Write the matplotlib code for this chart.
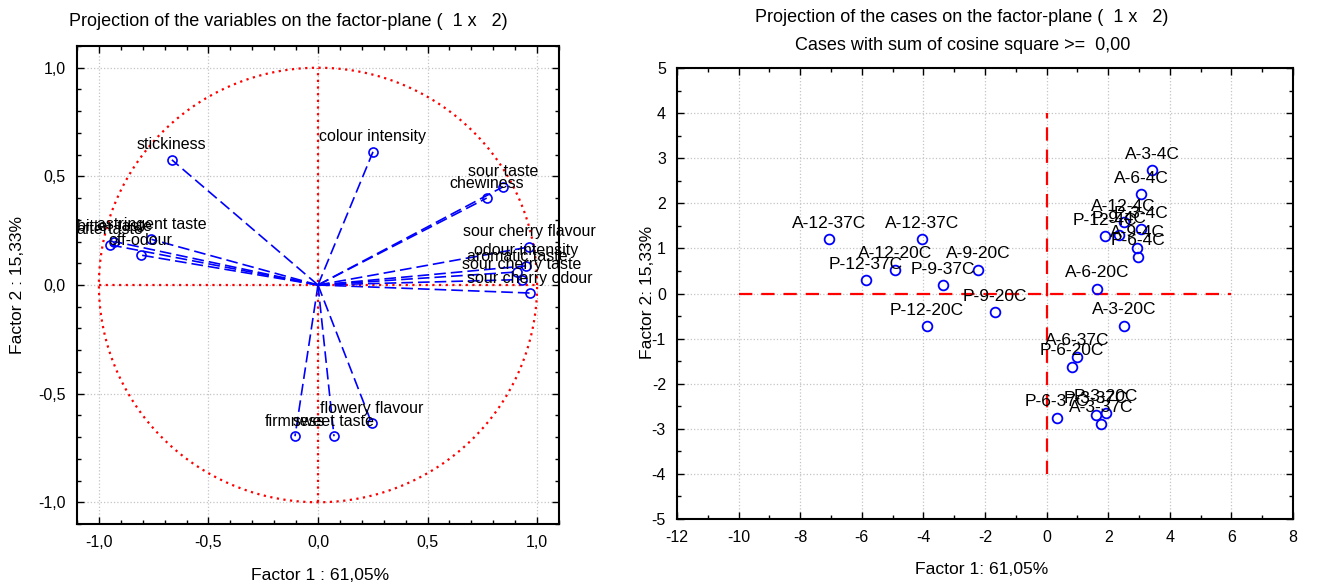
import numpy as np
import matplotlib
matplotlib.use('Agg')
import matplotlib.pyplot as plt
from matplotlib.ticker import MultipleLocator, FuncFormatter, FixedLocator

plt.rcParams['font.family'] = ['Liberation Sans', 'DejaVu Sans']

# ---- variables (left panel) ----
var_names = ['stickiness', 'colour intensity', 'sour taste', 'chewiness',
             'sour cherry flavour', 'odour intensity', 'aromatic taste',
             'sour cherry taste', 'sour cherry odour',
             'astringent taste', 'aftertaste', 'bitter taste', 'off-odour',
             'firmness', 'sweet taste', 'flowery flavour']
var_f1 = [-0.667, 0.251, 0.845, 0.770, 0.963, 0.950, 0.910, 0.930, 0.968,
          -0.760, -0.950, -0.930, -0.810, -0.105, 0.073, 0.245]
var_f2 = [0.576, 0.613, 0.452, 0.400, 0.175, 0.088, 0.060, 0.025, -0.037,
          0.210, 0.185, 0.200, 0.138, -0.696, -0.696, -0.636]

# ---- cases (right panel) ----
case_names = ['A-12-37C', 'A-12-37C', 'A-12-20C', 'P-12-37C', 'P-9-37C',
              'A-9-20C', 'P-12-20C', 'P-9-20C', 'A-6-20C', 'A-3-20C',
              'A-6-37C', 'P-6-20C', 'P-6-37C', 'P-3-37C', 'P-3-20C', 'A-3-37C',
              'A-3-4C', 'A-6-4C', 'A-12-4C', 'P-3-4C', 'P-12-4C', 'P-9-4C',
              'A-9-4C', 'P-6-4C']
case_f1 = [-7.07, -4.05, -4.92, -5.87, -3.36, -2.23, -3.89, -1.68, 1.64, 2.52,
           0.98, 0.83, 0.34, 1.60, 1.93, 1.77,
           3.43, 3.07, 2.50, 3.05, 1.90, 2.35, 2.95, 2.97]
case_f2 = [1.20, 1.20, 0.53, 0.29, 0.18, 0.53, -0.73, -0.42, 0.11, -0.71,
           -1.40, -1.62, -2.76, -2.69, -2.64, -2.89,
           2.73, 2.20, 1.58, 1.42, 1.27, 1.30, 1.00, 0.82]

left_ticks = [-1.0, -0.5, 0.0, 0.5, 1.0]
right_xticks = list(range(-12, 9, 2))
right_yticks = list(range(-5, 6))

W, H = 1321, 584
fig = plt.figure(figsize=(W / 100, H / 100), dpi=100)


def px(x, y):
    return x / W, 1 - y / H


ax1 = fig.add_axes([77 / W, (H - 524) / H, 482 / W, 478 / H])
ax2 = fig.add_axes([677 / W, (H - 519) / H, 616 / W, 451 / H])

FS_TICK = 11.5
FS_LAB = 11.5

for ax in (ax1, ax2):
    for s in ax.spines.values():
        s.set_linewidth(1.5)
        s.set_color('black')
    ax.tick_params(which='both', direction='in', top=True, right=True,
                   labelsize=FS_TICK, width=1.0)
    ax.tick_params(which='major', length=5, pad=8)
    ax.tick_params(which='minor', length=3)
    ax.grid(True, which='major', color='#c4c4c4', linestyle=':', linewidth=0.9)
    ax.set_axisbelow(True)

# ---- left panel ----
ax1.set_xlim(-1.1, 1.1)
ax1.set_ylim(-1.1, 1.1)
ax1.xaxis.set_major_locator(FixedLocator(left_ticks))
ax1.yaxis.set_major_locator(FixedLocator(left_ticks))
ax1.xaxis.set_minor_locator(MultipleLocator(0.1))
ax1.yaxis.set_minor_locator(MultipleLocator(0.1))
fmt1 = FuncFormatter(lambda v, p: f"{v:.1f}".replace('.', ',').replace('-0,0', '0,0'))
ax1.xaxis.set_major_formatter(fmt1)
ax1.yaxis.set_major_formatter(fmt1)

theta = np.linspace(0, 2 * np.pi, 400)
ax1.plot(np.cos(theta), np.sin(theta), color='red', linestyle=(0, (1, 2)), lw=1.6)
ax1.plot([-1, 1], [0, 0], color='red', linestyle=(0, (1, 2)), lw=1.6)
ax1.plot([0, 0], [-1, 1], color='red', linestyle=(0, (1, 2)), lw=1.6)

for name, x, y in zip(var_names, var_f1, var_f2):
    ax1.plot([0, x], [0, y], color='blue', linestyle=(0, (7, 3)), lw=1.2)
    ax1.plot([x], [y], 'o', mfc='none', mec='blue', ms=6.5, mew=1.2)
    ax1.annotate(name, (x, y), xytext=(0, 15), textcoords='offset pixels',
                 ha='center', va='center', fontsize=FS_LAB, color='black',
                 annotation_clip=False)

# ---- right panel ----
ax2.set_xlim(-12, 8)
ax2.set_ylim(-5, 5)
ax2.xaxis.set_major_locator(FixedLocator(right_xticks))
ax2.yaxis.set_major_locator(FixedLocator(right_yticks))
ax2.xaxis.set_minor_locator(MultipleLocator(1))
ax2.yaxis.set_minor_locator(MultipleLocator(0.5))
fmt2 = FuncFormatter(lambda v, p: f"{int(round(v))}")
ax2.xaxis.set_major_formatter(fmt2)
ax2.yaxis.set_major_formatter(fmt2)

ax2.plot([-10, 6], [0, 0], color='red', linestyle=(0, (6, 4)), lw=1.6)
ax2.plot([0, 0], [-4, 4], color='red', linestyle=(0, (6, 4)), lw=1.6)

ax2.plot(case_f1, case_f2, 'o', mfc='none', mec='blue', ms=7, mew=1.3,
         linestyle='none')
for name, x, y in zip(case_names, case_f1, case_f2):
    ax2.annotate(name, (x, y), xytext=(0, 16), textcoords='offset pixels',
                 ha='center', va='center', fontsize=12.5, color='black',
                 annotation_clip=False)

# ---- titles / axis labels ----
FS_TITLE = 13
FS_AXLAB = 12.6
fig.text(*px(288, 22), 'Projection of the variables on the factor-plane (  1 x   2)',
         ha='center', va='center', fontsize=FS_TITLE)
fig.text(*px(962, 18), 'Projection of the cases on the factor-plane (  1 x   2)',
         ha='center', va='center', fontsize=FS_TITLE)
fig.text(*px(963, 45), 'Cases with sum of cosine square >=  0,00',
         ha='center', va='center', fontsize=FS_TITLE)
fig.text(*px(320, 575), 'Factor 1 : 61,05%', ha='center', va='center', fontsize=FS_AXLAB)
fig.text(*px(18, 285), 'Factor 2 : 15,33%', ha='center', va='center',
         rotation=90, fontsize=FS_AXLAB)
fig.text(*px(982, 570), 'Factor 1: 61,05%', ha='center', va='center', fontsize=FS_AXLAB)
fig.text(*px(648, 292), 'Factor 2: 15,33%', ha='center', va='center',
         rotation=90, fontsize=FS_AXLAB)

fig.savefig('out.png', dpi=100)
